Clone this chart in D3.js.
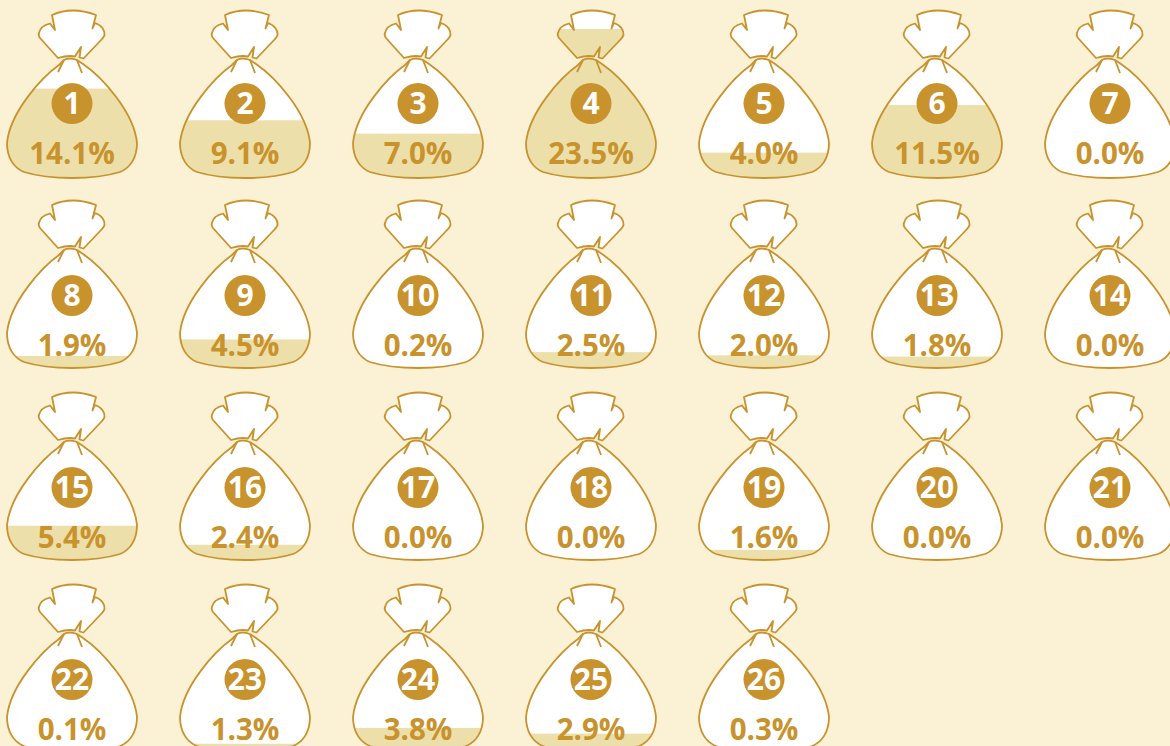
<!DOCTYPE html>
<html>
<head>
<meta charset="utf-8">
<script src="https://cdnjs.cloudflare.com/ajax/libs/d3/7.8.5/d3.min.js"></script>
<style>
html, body { margin: 0; padding: 0; background: #fbf1d5; overflow: hidden; }
svg { display: block; }
text { font-family: "Open Sans", sans-serif; font-weight: 700; }
</style>
</head>
<body>
<svg id="drawing_region"></svg>
<script>
const labels = d3.range(1, 27);
const percents = [14.1, 9.1, 7.0, 23.5, 4.0, 11.5, 0.0,
    1.9, 4.5, 0.2, 2.5, 2.0, 1.8, 0.0,
    5.4, 2.4, 0.0, 0.0, 1.6, 0.0, 0.0,
    0.1, 1.3, 3.8, 2.9, 0.3];
const perRow = 7;

const width = 1170, height = 746;
const gold = "#c8922d", pale = "#ecdfa9";

// outline of one bag, x around its centre, y from the top of the row
const sack = "M-20,15 Q0,6 24,15 L20.5,28.5 L23,23 C30,25 33,31 32.5,35 Q32,37 30,39 L11.5,58.5 L7.5,57.5 L9,47 L3,56.5 Q-4,55 -14,58 L-32,38 Q-34,35 -33,33 C-32,28 -28,25 -22,23.5 L-17,30 Z";
const body = "M-13,65 C-30,77 -62,112 -65,143 C-65,158 -58,168 -48,172 C-35,176 -15,178 0,178 C15,178 35,176 48,172 C58,168 65,158 65,143 C62,112 30,77 11,64 L5,60 Q-3,57 -8,60 Z";
const spikes = "M-8,60 L-14,72 M5,60 L10,73";

const svg = d3.select("#drawing_region").attr("width", width).attr("height", height);

const xscale = d3.scaleLinear().domain([0, perRow - 1]).range([72, 1110]);
const yscale = d3.scaleLinear().domain([0, 3]).range([0, 576]);
// the bags sit a little tighter than the labels after the first row
const bagY = d3.scaleLinear().domain([0, 1, 3]).range([0, 190, 574]);
const level = d3.scaleLinear().domain([0, 26.5]).range([178, 10]);

svg.append("defs").append("clipPath").attr("id", "bag_clip")
    .selectAll("path").data([sack, body]).join("path").attr("d", d => d);

const cells = svg.selectAll("g.cell")
    .data(percents)
    .join("g")
    .attr("class", "cell")
    .attr("transform", (d, i) => `translate(${xscale(i % perRow)}, 0)`);

const bags = cells.append("g")
    .attr("transform", (d, i) => `translate(0, ${bagY(Math.floor(i / perRow))})`);

bags.selectAll("path.base").data([sack, body]).join("path")
    .attr("class", "base").attr("d", d => d).attr("fill", "#fff");

bags.append("rect")
    .attr("clip-path", "url(#bag_clip)")
    .attr("x", -70)
    .attr("width", 140)
    .attr("y", d => level(d))
    .attr("height", d => level(0) - level(d))
    .attr("fill", pale);

bags.selectAll("path.edge").data([sack, body, spikes]).join("path")
    .attr("class", "edge").attr("d", d => d)
    .attr("fill", "none").attr("stroke", gold).attr("stroke-width", 1.8).attr("stroke-linejoin", "round");

const marks = cells.append("g")
    .attr("transform", (d, i) => `translate(0, ${yscale(Math.floor(i / perRow))})`);

marks.append("circle").attr("cy", 103.5).attr("r", 20.5).attr("fill", gold);

marks.append("text")
    .attr("y", 114)
    .attr("text-anchor", "middle")
    .attr("font-size", 30)
    .attr("fill", "#fff")
    .text((d, i) => labels[i]);

marks.append("text")
    .attr("y", 163.5)
    .attr("text-anchor", "middle")
    .attr("font-size", 29.5)
    .attr("fill", gold)
    .text(d => d.toFixed(1) + "%");
</script>
</body>
</html>
